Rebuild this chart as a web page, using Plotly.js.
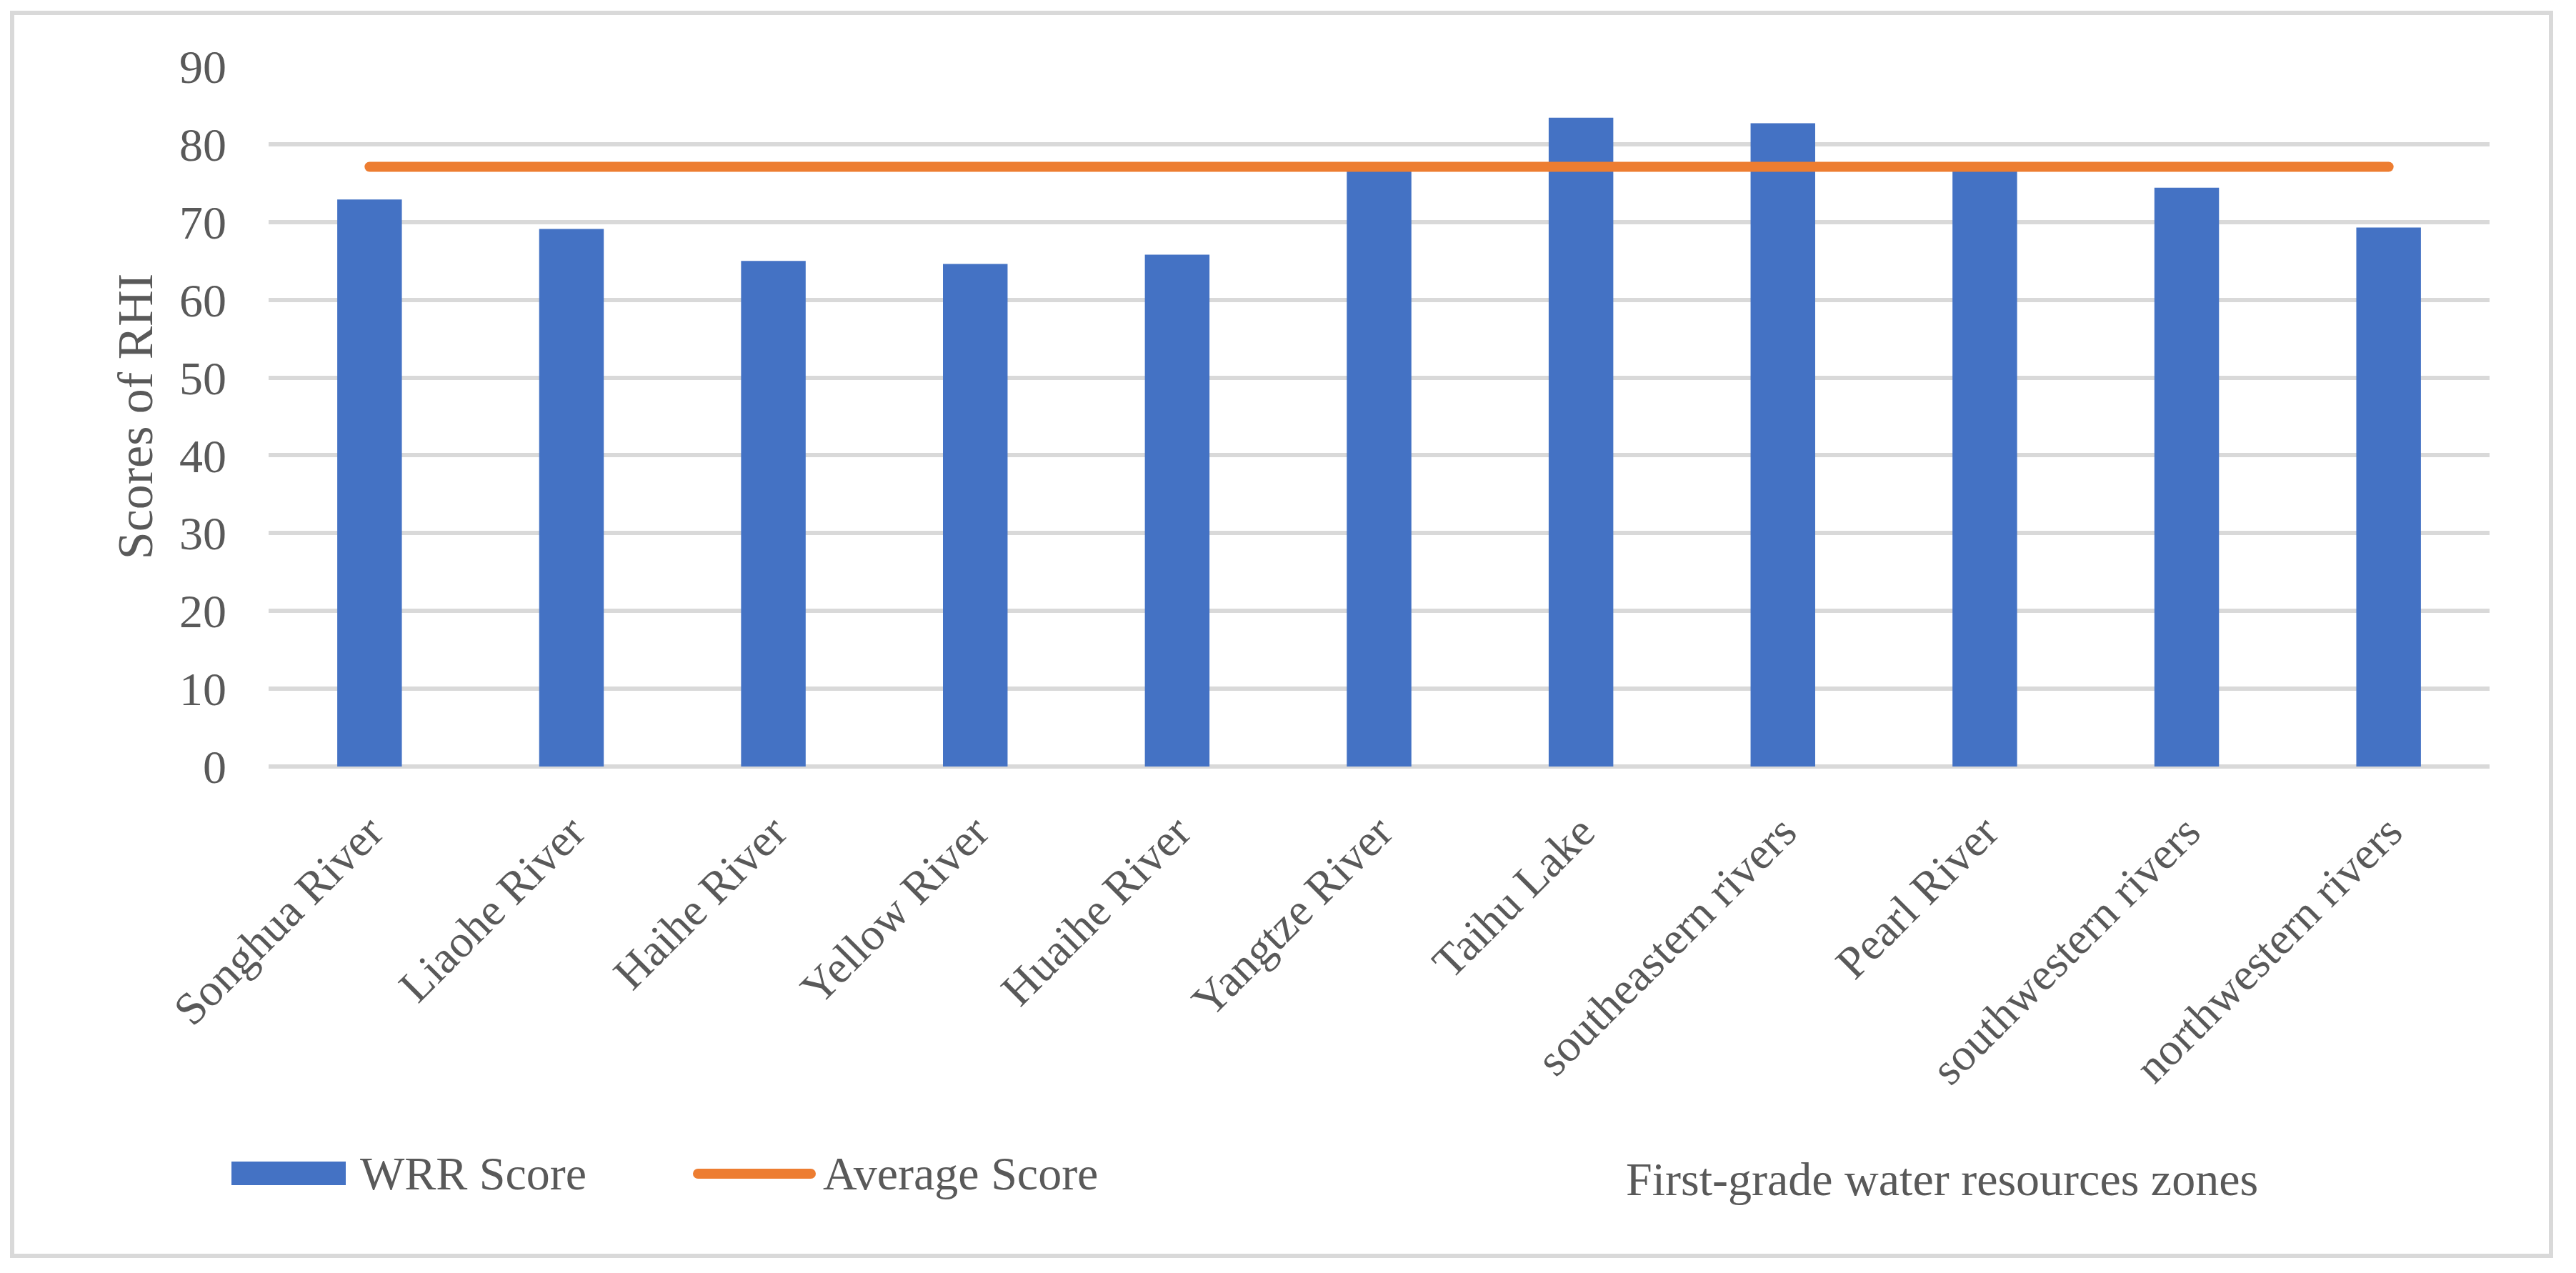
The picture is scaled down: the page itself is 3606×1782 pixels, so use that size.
<!DOCTYPE html>
<html>
<head>
<meta charset="utf-8">
<script src="https://cdn.plot.ly/plotly-3.0.1.min.js"></script>
<style>
  html, body { margin: 0; padding: 0; background: #ffffff; }
  #chart { width: 3606px; height: 1782px; }
  .js-line { stroke-linecap: round; }
  .shapelayer path { stroke-linecap: round; }
</style>
</head>
<body>
<div id="chart"></div>
<script>
// ---- data ----
const categories = [
  "Songhua River", "Liaohe River", "Haihe River", "Yellow River", "Huaihe River",
  "Yangtze River", "Taihu Lake", "southeastern rivers", "Pearl River",
  "southwestern rivers", "northwestern rivers"
];
const wrrScore = [72.9, 69.1, 65.0, 64.6, 65.8, 77.2, 83.4, 82.7, 77.2, 74.4, 69.3];
const averageScore = [77.1, 77.1, 77.1, 77.1, 77.1, 77.1, 77.1, 77.1, 77.1, 77.1, 77.1];
const yTickValues = [0, 10, 20, 30, 40, 50, 60, 70, 80, 90];
const seriesNames = ["WRR Score", "Average Score"];
const yAxisTitle = "Scores of RHI";
const xAxisTitle = "First-grade water resources zones";

// ---- layout geometry (pixels) ----
const W = 3606, H = 1782;
const plotL = 376, plotR = 3485, plotT = 93, plotB = 1073;
const pw = plotR - plotL, ph = plotB - plotT;
const px = v => (v - plotL) / pw;      // pixel x -> paper x
const py = v => (plotB - v) / ph;      // pixel y -> paper y

const FONT = "Liberation Serif, Times New Roman, serif";
const TXT = "#595959";
const BLUE = "#4472c4";
const ORANGE = "#ed7d31";
const GRID = "#d9d9d9";

const traces = [
  {
    type: "bar",
    name: seriesNames[0],
    x: categories,
    y: wrrScore,
    marker: { color: BLUE, line: { width: 0 } },
    showlegend: false,
    hoverinfo: "skip"
  },
  {
    type: "scatter",
    mode: "lines",
    name: seriesNames[1],
    x: categories,
    y: averageScore,
    line: { color: ORANGE, width: 14 },
    showlegend: false,
    hoverinfo: "skip"
  }
];

const layout = {
  width: W,
  height: H,
  paper_bgcolor: "#ffffff",
  plot_bgcolor: "#ffffff",
  margin: { l: plotL, r: W - plotR, t: plotT, b: H - plotB, pad: 0 },
  bargap: 0.68,
  font: { family: FONT, color: TXT, size: 64 },
  xaxis: {
    type: "category",
    tickangle: -45,
    showgrid: false,
    showline: false,
    zeroline: false,
    ticks: "",
    ticklabelstandoff: 40,
    tickfont: { family: FONT, size: 64, color: TXT }
  },
  yaxis: {
    range: [0, 90],
    tickvals: yTickValues,
    ticktext: yTickValues.map(String),
    showgrid: true,
    gridcolor: GRID,
    gridwidth: 6,
    zeroline: true,
    zerolinecolor: GRID,
    zerolinewidth: 6,
    showline: false,
    ticks: "",
    ticklabelstandoff: 58,
    tickfont: { family: FONT, size: 66, color: TXT },
    title: { text: yAxisTitle, font: { family: FONT, size: 70, color: TXT }, standoff: 14 }
  },
  shapes: [
    // outer chart border
    { type: "rect", xref: "paper", yref: "paper",
      x0: px(17), x1: px(3571), y0: py(1758), y1: py(18),
      line: { color: GRID, width: 6 }, fillcolor: "rgba(0,0,0,0)", layer: "below" },
    // legend swatch: bars
    { type: "rect", xref: "paper", yref: "paper",
      x0: px(324), x1: px(484), y0: py(1659), y1: py(1626),
      line: { width: 0 }, fillcolor: BLUE },
    // legend swatch: line
    { type: "line", xref: "paper", yref: "paper",
      x0: px(977), x1: px(1135), y0: py(1643), y1: py(1643),
      line: { color: ORANGE, width: 14 } }
  ],
  annotations: [
    { xref: "paper", yref: "paper", x: px(502), y: py(1642), text: seriesNames[0],
      showarrow: false, xanchor: "left", yanchor: "middle",
      font: { family: FONT, size: 66, color: TXT } },
    { xref: "paper", yref: "paper", x: px(1150), y: py(1642), text: seriesNames[1],
      showarrow: false, xanchor: "left", yanchor: "middle",
      font: { family: FONT, size: 66, color: TXT } },
    { xref: "paper", yref: "paper", x: px(2718), y: py(1650), text: xAxisTitle,
      showarrow: false, xanchor: "center", yanchor: "middle",
      font: { family: FONT, size: 66, color: TXT } }
  ]
};

Plotly.newPlot("chart", traces, layout, { staticPlot: true, displayModeBar: false });
</script>
</body>
</html>
